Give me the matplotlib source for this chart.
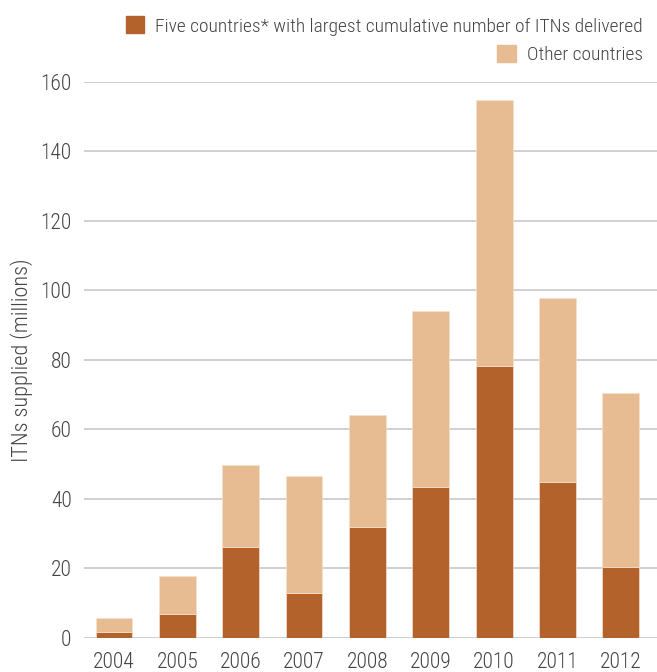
import matplotlib.pyplot as plt
from matplotlib.patches import Patch

years = [2004, 2005, 2006, 2007, 2008, 2009, 2010, 2011, 2012]
top_five = [1.7, 6.9, 26.2, 12.9, 31.9, 43.5, 78.3, 44.9, 20.4]
totals = [5.8, 17.8, 49.8, 46.6, 64.2, 94.1, 154.8, 97.8, 70.5]
others = [t - f for t, f in zip(totals, top_five)]

dark = '#b2622a'
light = '#e8bc92'
txt = '#444444'

plt.rcParams['font.family'] = ['Roboto Condensed', 'DejaVu Sans']
plt.rcParams['font.weight'] = 'light'

fig = plt.figure(figsize=(6.57, 6.72), dpi=100)
ax = fig.add_axes([0.128, 0.0506, 0.872, 0.8274])

ax.bar(years, top_five, width=0.58, color=dark, edgecolor='#f3e0cc', linewidth=0.5, zorder=3)
ax.bar(years, others, bottom=top_five, width=0.58, color=light, edgecolor='#f3e0cc', linewidth=0.5, zorder=3)

ax.set_xlim(2003.53, 2012.57)
ax.set_ylim(0, 160)
ax.set_yticks(range(0, 161, 20))
ax.set_xticks(years)
ax.yaxis.grid(True, color='#c8c8c8', linewidth=1.2, zorder=0)
ax.tick_params(length=0, labelsize=15.5, colors=txt)
ax.tick_params(axis='y', pad=9)
ax.tick_params(axis='x', pad=10)
for s in ax.spines.values():
    s.set_visible(False)
ax.set_ylabel('ITNs supplied (millions)', fontsize=16, color=txt, labelpad=5,
              fontweight='light')

kw = dict(frameon=False, fontsize=14, handlelength=0.95, handleheight=0.95,
          handletextpad=0.55, borderpad=0, labelcolor=txt)
fig.legend(handles=[Patch(color=dark)],
           labels=['Five countries* with largest cumulative number of ITNs delivered'],
           loc='upper right', bbox_to_anchor=(0.993, 0.99), **kw)
fig.legend(handles=[Patch(color=light)], labels=['Other countries'],
           loc='upper right', bbox_to_anchor=(0.993, 0.947), **kw)

fig.savefig('out.png', dpi=100)
